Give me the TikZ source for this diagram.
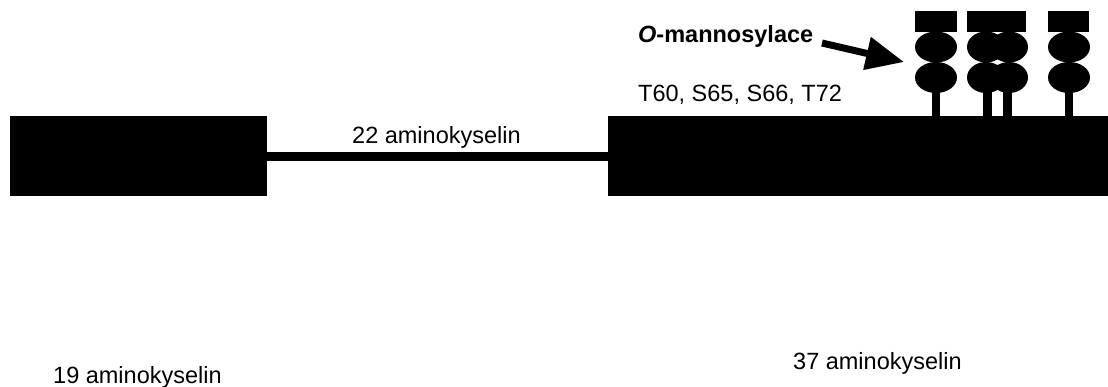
\documentclass[tikz,border=0pt]{standalone}
\usepackage{fontspec}
\setmainfont{Liberation Sans}
\usetikzlibrary{arrows.meta}
\begin{document}
\begin{tikzpicture}[x=1pt,y=-1pt,
  txt/.style={inner sep=0pt,anchor=base west,font=\fontsize{23.5}{28}\selectfont},
  protbox/.style={fill=black,draw=none,inner sep=0pt,minimum height=80pt},
  sugar/.style={fill=black},
  linker/.style={line width=9pt},
  pointer/.style={line width=7pt,-{Triangle[length=38pt,width=32pt]}}]
\useasboundingbox (0,0) rectangle (1108,386);
% protein domains
\node[protbox,minimum width=257pt] (signal) at (138.5,156) {};
\node[protbox,minimum width=500pt] (mature) at (858,156) {};
\draw[linker] (signal.east) -- (mature.west);
% O-linked glycans: mannose units (ellipses), terminal block, stem
\fill[sugar] (915,11) rectangle (957,32);
\fill[sugar] (936,47) ellipse [x radius=21pt,y radius=15.5pt];
\fill[sugar] (936,77.5) ellipse [x radius=21pt,y radius=15.5pt];
\fill[sugar] (932,90) rectangle (940,116);
\fill[sugar] (967,11) rectangle (1026,32);
\fill[sugar] (986,47) ellipse [x radius=19pt,y radius=15.5pt];
\fill[sugar] (986,77.5) ellipse [x radius=19pt,y radius=15.5pt];
\fill[sugar] (1009,47) ellipse [x radius=19pt,y radius=15.5pt];
\fill[sugar] (1009,77.5) ellipse [x radius=19pt,y radius=15.5pt];
\fill[sugar] (983,90) rectangle (992,116);
\fill[sugar] (1003,90) rectangle (1012,116);
\fill[sugar] (1048,11) rectangle (1089,32);
\fill[sugar] (1069,47) ellipse [x radius=21pt,y radius=15.5pt];
\fill[sugar] (1069,77.5) ellipse [x radius=21pt,y radius=15.5pt];
\fill[sugar] (1065,90) rectangle (1073,116);
% labels
\node[txt] (linklab) at (352,143) {22 aminokyselin};
\node[txt,font=\fontsize{23.5}{28}\selectfont\bfseries] (mannos) at (638,42) {\textit{O}-mannosylace};
\node[txt] (sites) at (638,101) {T60, S65, S66, T72};
\node[txt] (sig) at (53,383) {19 aminokyselin};
\node[txt] (mat) at (793,369) {37 aminokyselin};
% pointer to the glycans
\coordinate (tail) at (822,43);
\coordinate (tip) at (904,62);
\draw[pointer] (tail) -- (tip);
\end{tikzpicture}
\end{document}
